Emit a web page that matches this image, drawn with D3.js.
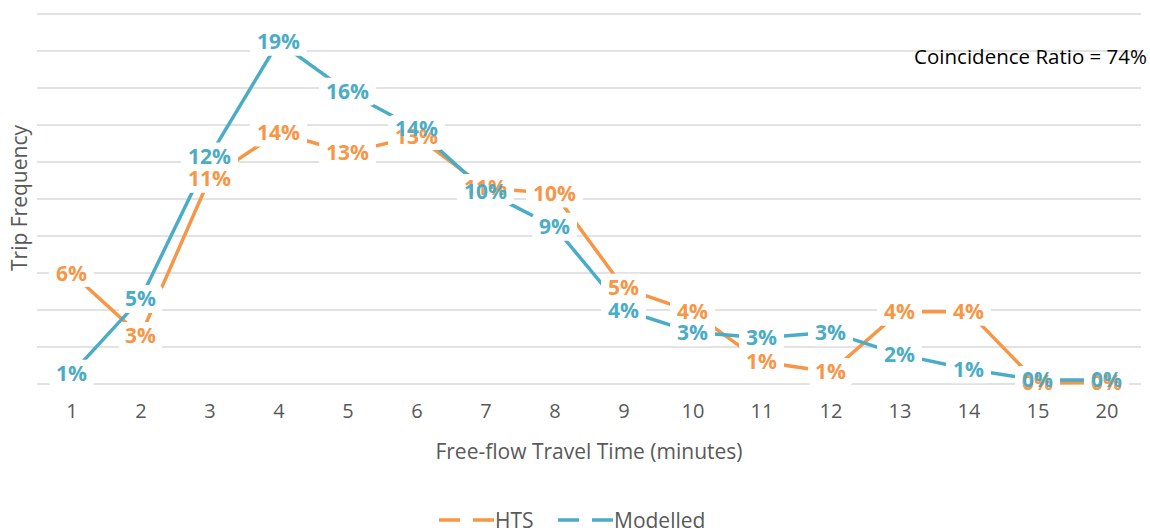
<!DOCTYPE html>
<html>
<head>
<meta charset="utf-8">
<script src="https://cdn.jsdelivr.net/npm/d3@7"></script>
<style>
  body { margin: 0; background: #fff; }
  svg text { font-family: "Open Sans", sans-serif; }
</style>
</head>
<body>
<div id="chart"></div>
<script>
// travel time bins (minutes)
const categories = ["1", "2", "3", "4", "5", "6", "7", "8", "9", "10", "11", "12", "13", "14", "15", "20"];
// share of trips per bin
const htsValues = [0.060, 0.026, 0.111, 0.136, 0.125, 0.134, 0.106, 0.103, 0.052, 0.039, 0.012, 0.0065, 0.039, 0.039, 0.0006, 0.0008];
const modelledValues = [0.0055, 0.046, 0.123, 0.185, 0.158, 0.138, 0.104, 0.085, 0.040, 0.028, 0.025, 0.028, 0.016, 0.008, 0.0022, 0.0022];
const seriesNames = ["HTS", "Modelled"];
const yTicks = [0, 0.02, 0.04, 0.06, 0.08, 0.1, 0.12, 0.14, 0.16, 0.18, 0.2];

const W = 1150, H = 531;
const colors = { HTS: "#F79646", Modelled: "#4BACC6" };

const svg = d3.select("#chart").append("svg")
  .attr("width", W)
  .attr("height", H);

const x = d3.scalePoint().domain(categories).range([37, 1141]).padding(0.5);
const y = d3.scaleLinear().domain([0, 0.2]).range([384, 14]);

// gridlines
svg.append("g")
  .selectAll("line")
  .data(yTicks)
  .enter()
  .append("line")
  .attr("x1", 37)
  .attr("x2", 1141)
  .attr("y1", (d) => y(d))
  .attr("y2", (d) => y(d))
  .attr("stroke", "#d9d9d9")
  .attr("stroke-width", 1.5);

// x axis labels
const xAxis = svg.append("g")
  .attr("transform", "translate(0,384)")
  .call(d3.axisBottom(x).tickSize(0).tickPadding(20));
xAxis.select(".domain").remove();
xAxis.selectAll("text")
  .style("font-family", "'Open Sans', sans-serif")
  .style("font-size", "20px")
  .attr("fill", "#595959");

// axis titles
svg.append("text")
  .attr("x", 589)
  .attr("y", 459)
  .attr("text-anchor", "middle")
  .attr("fill", "#595959")
  .style("font-size", "21px")
  .text("Free-flow Travel Time (minutes)");

svg.append("text")
  .attr("transform", "translate(27,198) rotate(-90)")
  .attr("text-anchor", "middle")
  .attr("fill", "#595959")
  .style("font-size", "21px")
  .text("Trip Frequency");

svg.append("text")
  .attr("x", 1147)
  .attr("y", 64)
  .attr("text-anchor", "end")
  .attr("fill", "#000")
  .style("font-size", "20.5px")
  .text("Coincidence Ratio = 74%");

const series = [
  { name: "HTS", values: htsValues },
  { name: "Modelled", values: modelledValues },
];

const line = d3.line()
  .x((d, i) => x(categories[i]))
  .y((d) => y(d));

series.forEach((s) => {
  svg.append("path")
    .datum(s.values)
    .attr("fill", "none")
    .attr("stroke", colors[s.name])
    .attr("stroke-width", 3.5)
    .attr("stroke-linejoin", "round")
    .attr("d", line);
});

// label boxes first (both series), then the texts, so overlapping labels stay readable
const fmt = d3.format(".0%");
const labelLayer = svg.append("g");
const labelData = [];
series.forEach((s) => {
  s.values.forEach((v, i) => labelData.push({ name: s.name, v: v, cat: categories[i] }));
});

const texts = labelLayer.selectAll("text")
  .data(labelData)
  .enter()
  .append("text")
  .attr("x", (d) => x(d.cat))
  .attr("y", (d) => y(d.v) + 7.5)
  .attr("text-anchor", "middle")
  .attr("fill", (d) => colors[d.name])
  .style("font-size", "21px")
  .style("font-weight", "bold")
  .text((d) => fmt(d.v));

texts.each(function (d) {
  const b = this.getBBox();
  labelLayer.insert("rect", "text")
    .attr("x", b.x - 7)
    .attr("y", y(d.v) - 14)
    .attr("width", b.width + 14)
    .attr("height", 28)
    .attr("rx", 6)
    .attr("fill", "#fff");
});

// legend
const legend = svg.append("g").attr("transform", "translate(439,520)");
const legendX = [0, 119];
series.forEach((s, i) => {
  const g = legend.append("g").attr("transform", `translate(${legendX[i]},0)`);
  g.append("line")
    .attr("x1", 0)
    .attr("x2", 55)
    .attr("y1", 0)
    .attr("y2", 0)
    .attr("stroke", colors[s.name])
    .attr("stroke-width", 3.5)
    .attr("stroke-dasharray", "21,13");
  g.append("text")
    .attr("x", 56)
    .attr("y", 7.5)
    .attr("fill", "#595959")
    .style("font-size", "21px")
    .text(s.name);
});
</script>
</body>
</html>
